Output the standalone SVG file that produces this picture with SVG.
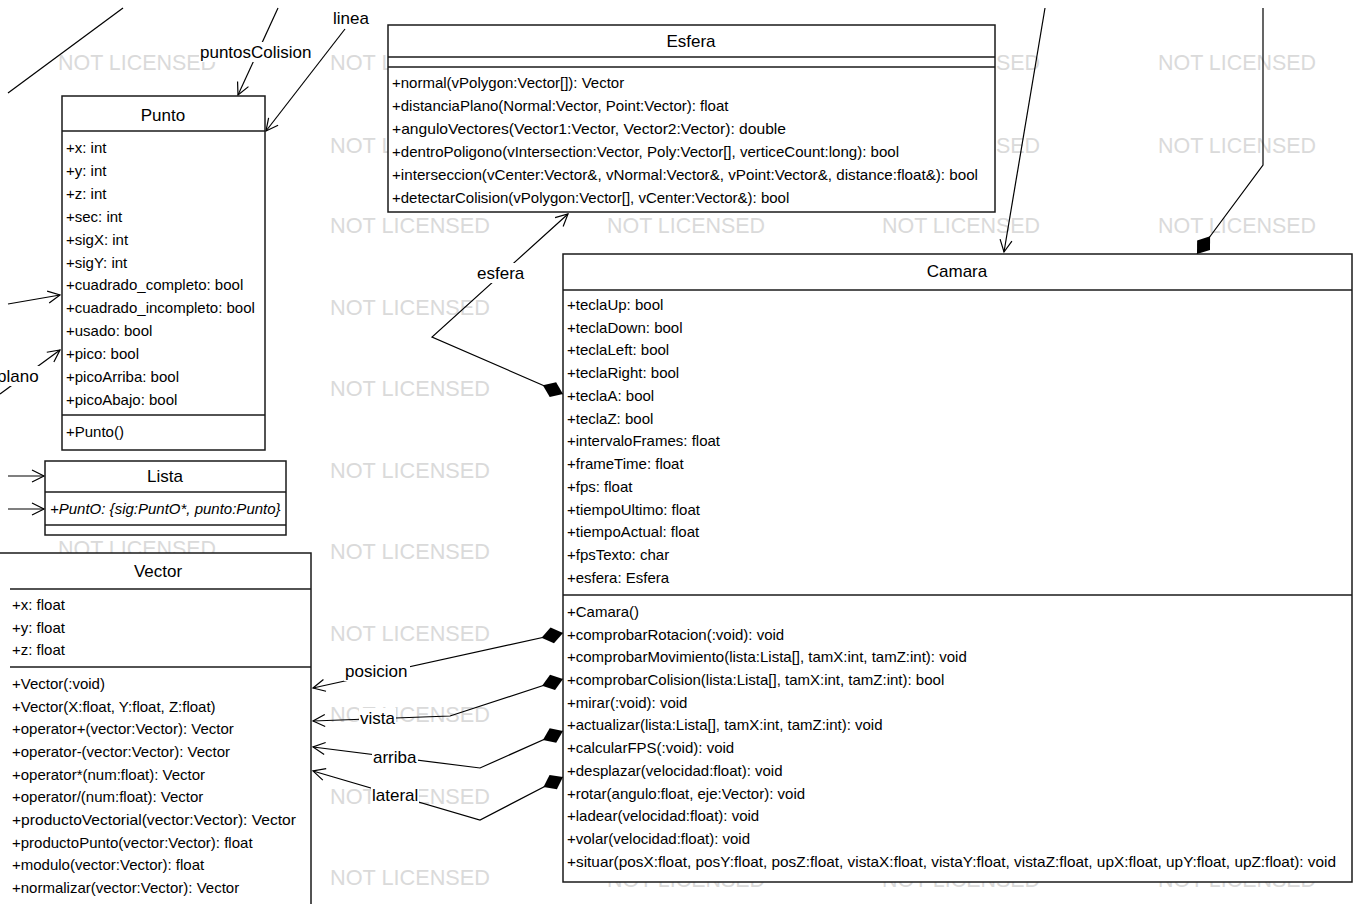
<svg xmlns="http://www.w3.org/2000/svg" width="1361" height="904" viewBox="0 0 1361 904">
<defs>
<style>
.box{fill:#fff;stroke:#1a1a1a;stroke-width:1.5}
.div{stroke:#1a1a1a;stroke-width:1.5}
.t{font-family:"Liberation Sans",Arial,sans-serif;font-size:15px;fill:#000}
.ti{font-family:"Liberation Sans",Arial,sans-serif;font-size:15px;fill:#000;font-style:italic}
.h{font-family:"Liberation Sans",Arial,sans-serif;font-size:17px;fill:#000;text-anchor:middle}
.lbl{font-family:"Liberation Sans",Arial,sans-serif;font-size:17px;fill:#000}
.wm{font-family:"Liberation Sans",Arial,sans-serif;font-size:22px;fill:#dadada}
.ln{fill:none;stroke:#000;stroke-width:1.2}
.bg{fill:#fff}
</style>
<marker id="open" markerUnits="userSpaceOnUse" markerWidth="16" markerHeight="16" viewBox="-13 -8 15 16" refX="0" refY="0" orient="auto">
<path d="M-12,-6 L0,0 L-12,6" fill="none" stroke="#000" stroke-width="1.2"/>
</marker>
<marker id="diamond" markerUnits="userSpaceOnUse" markerWidth="26" markerHeight="20" viewBox="-1 -10 26 20" refX="0" refY="0" orient="auto">
<path d="M0,0 L11,-8 L22,0 L11,8 Z" fill="#000"/>
</marker>
</defs>
<rect width="1361" height="904" fill="#fff"/>

<g id="watermarks">
<text class="wm" x="58" y="70" textLength="158" lengthAdjust="spacingAndGlyphs">NOT LICENSED</text>
<text class="wm" x="58" y="556" textLength="158" lengthAdjust="spacingAndGlyphs">NOT LICENSED</text>
<text class="wm" x="330" y="70" textLength="160" lengthAdjust="spacingAndGlyphs">NOT LICENSED</text>
<text class="wm" x="330" y="153" textLength="160" lengthAdjust="spacingAndGlyphs">NOT LICENSED</text>
<text class="wm" x="330" y="233" textLength="160" lengthAdjust="spacingAndGlyphs">NOT LICENSED</text>
<text class="wm" x="330" y="315" textLength="160" lengthAdjust="spacingAndGlyphs">NOT LICENSED</text>
<text class="wm" x="330" y="396" textLength="160" lengthAdjust="spacingAndGlyphs">NOT LICENSED</text>
<text class="wm" x="330" y="478" textLength="160" lengthAdjust="spacingAndGlyphs">NOT LICENSED</text>
<text class="wm" x="330" y="559" textLength="160" lengthAdjust="spacingAndGlyphs">NOT LICENSED</text>
<text class="wm" x="330" y="641" textLength="160" lengthAdjust="spacingAndGlyphs">NOT LICENSED</text>
<text class="wm" x="330" y="722" textLength="160" lengthAdjust="spacingAndGlyphs">NOT LICENSED</text>
<text class="wm" x="330" y="804" textLength="160" lengthAdjust="spacingAndGlyphs">NOT LICENSED</text>
<text class="wm" x="330" y="885" textLength="160" lengthAdjust="spacingAndGlyphs">NOT LICENSED</text>
<text class="wm" x="607" y="233" textLength="158" lengthAdjust="spacingAndGlyphs">NOT LICENSED</text>
<text class="wm" x="607" y="887" textLength="158" lengthAdjust="spacingAndGlyphs">NOT LICENSED</text>
<text class="wm" x="882" y="70" textLength="158" lengthAdjust="spacingAndGlyphs">NOT LICENSED</text>
<text class="wm" x="882" y="153" textLength="158" lengthAdjust="spacingAndGlyphs">NOT LICENSED</text>
<text class="wm" x="882" y="233" textLength="158" lengthAdjust="spacingAndGlyphs">NOT LICENSED</text>
<text class="wm" x="882" y="887" textLength="158" lengthAdjust="spacingAndGlyphs">NOT LICENSED</text>
<text class="wm" x="1158" y="70" textLength="158" lengthAdjust="spacingAndGlyphs">NOT LICENSED</text>
<text class="wm" x="1158" y="153" textLength="158" lengthAdjust="spacingAndGlyphs">NOT LICENSED</text>
<text class="wm" x="1158" y="233" textLength="158" lengthAdjust="spacingAndGlyphs">NOT LICENSED</text>
<text class="wm" x="1158" y="887" textLength="158" lengthAdjust="spacingAndGlyphs">NOT LICENSED</text>
</g>

<g id="connectors">
<path class="ln" d="M8,93 L123,8"/>
<path class="ln" d="M278,8 L238,95" marker-end="url(#open)"/>
<path class="ln" d="M345,29 L266,131" marker-end="url(#open)"/>
<path class="ln" d="M8,304 L60,295" marker-end="url(#open)"/>
<path class="ln" d="M0,394 L60,350" marker-end="url(#open)"/>
<path class="ln" d="M8,476 L44,476" marker-end="url(#open)"/>
<path class="ln" d="M8,509 L44,509" marker-end="url(#open)"/>
<path class="ln" d="M563,394 L432,337 L568,214" marker-start="url(#diamond)" marker-end="url(#open)"/>
<path class="ln" d="M563,633 L313,688" marker-start="url(#diamond)" marker-end="url(#open)"/>
<path class="ln" d="M563,679 L450,716 L313,721" marker-start="url(#diamond)" marker-end="url(#open)"/>
<path class="ln" d="M563,731 L480,768 L313,747" marker-start="url(#diamond)" marker-end="url(#open)"/>
<path class="ln" d="M563,777 L480,820 L313,771" marker-start="url(#diamond)" marker-end="url(#open)"/>
<path class="ln" d="M1045,8 L1004,252" marker-end="url(#open)"/>
<path class="ln" d="M1197,254 L1263,165 L1263,8" marker-start="url(#diamond)"/>
<rect class="bg" x="199" y="42" width="116" height="20"/>
<text class="lbl" x="200" y="58">puntosColision</text>
<rect class="bg" x="332" y="8" width="38" height="19"/>
<text class="lbl" x="333" y="24">linea</text>
<rect class="bg" x="-4" y="366" width="50" height="20"/>
<text class="lbl" x="-3" y="382">plano</text>
<rect class="bg" x="476" y="263" width="51" height="20"/>
<text class="lbl" x="477" y="279">esfera</text>
<rect class="bg" x="344" y="661" width="66" height="20"/>
<text class="lbl" x="345" y="677">posicion</text>
<rect class="bg" x="359" y="708" width="37" height="20"/>
<text class="lbl" x="360" y="724">vista</text>
<rect class="bg" x="372" y="747" width="46" height="20"/>
<text class="lbl" x="373" y="763">arriba</text>
<rect class="bg" x="371" y="785" width="48" height="20"/>
<text class="lbl" x="372" y="801">lateral</text>
</g>

<g id="node-punto">
<rect class="box" x="62" y="96" width="203" height="354"/>
<line class="div" x1="62" y1="131" x2="265" y2="131"/>
<line class="div" x1="62" y1="415" x2="265" y2="415"/>
<text class="h" x="163" y="121">Punto</text>
<text class="t" x="66" y="153">+x: int</text>
<text class="t" x="66" y="176">+y: int</text>
<text class="t" x="66" y="199">+z: int</text>
<text class="t" x="66" y="222">+sec: int</text>
<text class="t" x="66" y="245">+sigX: int</text>
<text class="t" x="66" y="268">+sigY: int</text>
<text class="t" x="66" y="290">+cuadrado_completo: bool</text>
<text class="t" x="66" y="313">+cuadrado_incompleto: bool</text>
<text class="t" x="66" y="336">+usado: bool</text>
<text class="t" x="66" y="359">+pico: bool</text>
<text class="t" x="66" y="382">+picoArriba: bool</text>
<text class="t" x="66" y="405">+picoAbajo: bool</text>
<text class="t" x="66" y="437">+Punto()</text>
</g>

<g id="node-lista">
<rect class="box" x="45" y="461" width="241" height="74"/>
<line class="div" x1="45" y1="492" x2="286" y2="492"/>
<line class="div" x1="45" y1="525" x2="286" y2="525"/>
<text class="h" x="165" y="482">Lista</text>
<text class="ti" x="50" y="514">+PuntO: {sig:PuntO*, punto:Punto}</text>
</g>

<g id="node-vector">
<rect class="box" x="-10" y="553" width="321" height="360"/>
<line class="div" x1="10" y1="589" x2="311" y2="589"/>
<line class="div" x1="10" y1="667" x2="311" y2="667"/>
<text class="h" x="158" y="577">Vector</text>
<text class="t" x="12" y="610">+x: float</text>
<text class="t" x="12" y="633">+y: float</text>
<text class="t" x="12" y="655">+z: float</text>
<text class="t" x="12" y="689">+Vector(:void)</text>
<text class="t" x="12" y="712">+Vector(X:float, Y:float, Z:float)</text>
<text class="t" x="12" y="734">+operator+(vector:Vector): Vector</text>
<text class="t" x="12" y="757">+operator-(vector:Vector): Vector</text>
<text class="t" x="12" y="780">+operator*(num:float): Vector</text>
<text class="t" x="12" y="802">+operator/(num:float): Vector</text>
<text class="t" x="12" y="825" textLength="284" lengthAdjust="spacingAndGlyphs">+productoVectorial(vector:Vector): Vector</text>
<text class="t" x="12" y="848">+productoPunto(vector:Vector): float</text>
<text class="t" x="12" y="870">+modulo(vector:Vector): float</text>
<text class="t" x="12" y="893">+normalizar(vector:Vector): Vector</text>
</g>

<g id="node-esfera">
<rect class="box" x="388" y="25" width="607" height="187"/>
<line class="div" x1="388" y1="57" x2="995" y2="57"/>
<line class="div" x1="388" y1="67" x2="995" y2="67"/>
<text class="h" x="691" y="47">Esfera</text>
<text class="t" x="392" y="88">+normal(vPolygon:Vector[]): Vector</text>
<text class="t" x="392" y="111">+distanciaPlano(Normal:Vector, Point:Vector): float</text>
<text class="t" x="392" y="134" textLength="394" lengthAdjust="spacingAndGlyphs">+anguloVectores(Vector1:Vector, Vector2:Vector): double</text>
<text class="t" x="392" y="157" textLength="507" lengthAdjust="spacingAndGlyphs">+dentroPoligono(vIntersection:Vector, Poly:Vector[], verticeCount:long): bool</text>
<text class="t" x="392" y="180" textLength="586" lengthAdjust="spacingAndGlyphs">+interseccion(vCenter:Vector&amp;, vNormal:Vector&amp;, vPoint:Vector&amp;, distance:float&amp;): bool</text>
<text class="t" x="392" y="203">+detectarColision(vPolygon:Vector[], vCenter:Vector&amp;): bool</text>
</g>

<g id="node-camara">
<rect class="box" x="563" y="254" width="789" height="628"/>
<line class="div" x1="563" y1="290" x2="1352" y2="290"/>
<line class="div" x1="563" y1="595" x2="1352" y2="595"/>
<text class="h" x="957" y="277">Camara</text>
<text class="t" x="567" y="310">+teclaUp: bool</text>
<text class="t" x="567" y="333">+teclaDown: bool</text>
<text class="t" x="567" y="355">+teclaLeft: bool</text>
<text class="t" x="567" y="378">+teclaRight: bool</text>
<text class="t" x="567" y="401">+teclaA: bool</text>
<text class="t" x="567" y="424">+teclaZ: bool</text>
<text class="t" x="567" y="446">+intervaloFrames: float</text>
<text class="t" x="567" y="469">+frameTime: float</text>
<text class="t" x="567" y="492">+fps: float</text>
<text class="t" x="567" y="515">+tiempoUltimo: float</text>
<text class="t" x="567" y="537">+tiempoActual: float</text>
<text class="t" x="567" y="560">+fpsTexto: char</text>
<text class="t" x="567" y="583">+esfera: Esfera</text>
<text class="t" x="567" y="617">+Camara()</text>
<text class="t" x="567" y="640">+comprobarRotacion(:void): void</text>
<text class="t" x="567" y="662">+comprobarMovimiento(lista:Lista[], tamX:int, tamZ:int): void</text>
<text class="t" x="567" y="685">+comprobarColision(lista:Lista[], tamX:int, tamZ:int): bool</text>
<text class="t" x="567" y="708">+mirar(:void): void</text>
<text class="t" x="567" y="730">+actualizar(lista:Lista[], tamX:int, tamZ:int): void</text>
<text class="t" x="567" y="753">+calcularFPS(:void): void</text>
<text class="t" x="567" y="776">+desplazar(velocidad:float): void</text>
<text class="t" x="567" y="799">+rotar(angulo:float, eje:Vector): void</text>
<text class="t" x="567" y="821">+ladear(velocidad:float): void</text>
<text class="t" x="567" y="844">+volar(velocidad:float): void</text>
<text class="t" x="567" y="867" textLength="769" lengthAdjust="spacingAndGlyphs">+situar(posX:float, posY:float, posZ:float, vistaX:float, vistaY:float, vistaZ:float, upX:float, upY:float, upZ:float): void</text>
</g>
</svg>
